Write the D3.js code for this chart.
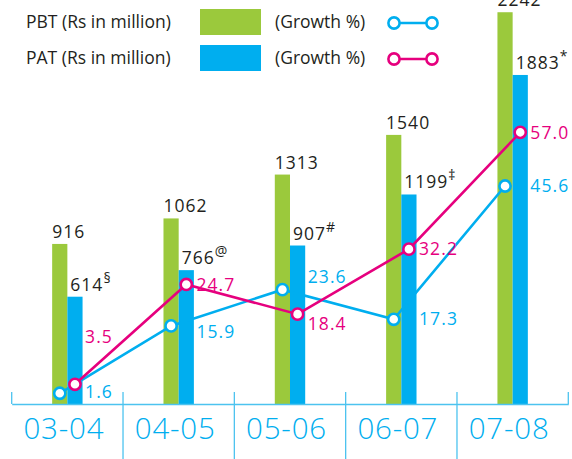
<!DOCTYPE html>
<html><head><meta charset="utf-8">
<script src="https://cdn.jsdelivr.net/npm/d3@7"></script>
<style>
html,body{margin:0;padding:0;background:#fff;}
svg{display:block;font-family:"Open Sans","DejaVu Sans",sans-serif;}
</style></head>
<body><svg id="c" width="572" height="459"></svg>
<script>
const categories = ["03-04","04-05","05-06","06-07","07-08"];
const pbt = [916,1062,1313,1540,2242];
const pat = [614,766,907,1199,1883];
const pbtMarks = ["","","","","†"];
const patMarks = ["§","@","#","‡","*"];
const pbtGrowth = [1.6,15.9,23.6,17.3,45.6];
const patGrowth = [3.5,24.7,18.4,32.2,57.0];

// label vertical nudges (layout only)
const pbtGrowthDy = [2,9,-10,3,3];
const patGrowthDy = [-44,4,13,3,4];

const GREEN="#9bc93c", BLUE="#00aeef", PINK="#e6007e", INK="#231f20", AXIS="#4cc3ef";
const svg = d3.select("#c");

const x = d3.scaleBand().domain(categories).range([11.7,568.3]).padding(0);
const yBar = d3.scaleLinear().domain([0,2312]).range([404,0]);
const yG = d3.scaleLinear().domain([0,85]).range([400.8,0.45]);
const bw = 15.2;
const cx = c => x(c)+x.bandwidth()/2;

// bars
svg.append("g").selectAll("rect").data(categories).join("rect")
  .attr("x",c=>cx(c)-bw).attr("width",bw)
  .attr("y",(c,i)=>yBar(pbt[i])).attr("height",(c,i)=>yBar(0)-yBar(pbt[i]))
  .attr("fill",GREEN);
svg.append("g").selectAll("rect").data(categories).join("rect")
  .attr("x",c=>cx(c)).attr("width",bw)
  .attr("y",(c,i)=>yBar(pat[i])).attr("height",(c,i)=>yBar(0)-yBar(pat[i]))
  .attr("fill",BLUE);

// value labels
function valLabels(vals, marks, dx){
  const t = svg.append("g").selectAll("text").data(categories).join("text")
    .attr("x",(c)=>cx(c)+dx).attr("y",(c,i)=>yBar(vals[i])-6)
    .attr("font-size",17.5).attr("fill",INK);
  t.append("tspan").attr("letter-spacing",1).text((c,i)=>vals[i]);
  t.append("tspan").attr("dy",-8).attr("dx",0).attr("font-size",14).text((c,i)=>marks[i]);
}
valLabels(pbt,pbtMarks,-bw);
valLabels(pat,patMarks,3);

// axis
const ax = svg.append("g").attr("transform","translate(0,404)");
ax.call(d3.axisBottom(x).tickSize(0).tickFormat(""));
ax.select(".domain").attr("stroke",AXIS).attr("stroke-width",1.3);
const edges = x.domain().map(c=>x(c)).concat([x.range()[1]]);
svg.append("g").selectAll("line").data(edges).join("line")
  .attr("x1",d=>d).attr("x2",d=>d).attr("y1",392).attr("y2",(d,i)=> (i===0||i===edges.length-1)?404:459)
  .attr("stroke",AXIS).attr("stroke-width",1.3);
svg.append("g").selectAll("text").data(categories).join("text")
  .attr("x",c=>cx(c)-3.5).attr("y",439.3).attr("text-anchor","middle")
  .attr("font-size",29.5).attr("font-weight",300).attr("letter-spacing",0.8)
  .attr("fill",BLUE).text(c=>c);

// growth lines
function growth(vals, color, off, dys){
  const pts = categories.map((c,i)=>[cx(c)+off, yG(vals[i])]);
  svg.append("path").attr("d",d3.line()(pts)).attr("fill","none")
    .attr("stroke",color).attr("stroke-width",2.6);
  svg.append("g").selectAll("circle").data(pts).join("circle")
    .attr("cx",d=>d[0]).attr("cy",d=>d[1]).attr("r",5.6)
    .attr("fill","#fff").attr("stroke",color).attr("stroke-width",2.6);
  svg.append("g").selectAll("text").data(categories).join("text")
    .attr("x",c=>cx(c)+bw+2.5).attr("y",(c,i)=>yG(vals[i])+dys[i]+3)
    .attr("font-size",17.5).attr("letter-spacing",1.1)
    .attr("fill",color).text((c,i)=>vals[i].toFixed(1));
}
growth(pbtGrowth, BLUE, -bw/2, pbtGrowthDy);
growth(patGrowth, PINK, bw/2, patGrowthDy);

// legend
const legend = [
  {label:"PBT (Rs in million)", fill:GREEN, line:BLUE, y:22},
  {label:"PAT (Rs in million)", fill:BLUE, line:PINK, y:58}
];
const lg = svg.append("g").selectAll("g").data(legend).join("g");
lg.append("text").attr("x",26).attr("y",d=>d.y+6).attr("font-size",17.5).attr("fill",INK).text(d=>d.label);
lg.append("rect").attr("x",200).attr("y",d=>d.y-13).attr("width",61).attr("height",26).attr("fill",d=>d.fill);
lg.append("text").attr("x",275).attr("y",d=>d.y+6).attr("font-size",17.5).attr("fill",INK).text("(Growth %)");
lg.append("line").attr("x1",394).attr("x2",432).attr("y1",d=>d.y+1).attr("y2",d=>d.y+1)
  .attr("stroke",d=>d.line).attr("stroke-width",2.6);
lg.each(function(d){
  d3.select(this).selectAll("circle").data([394,432]).join("circle")
    .attr("cx",v=>v).attr("cy",d.y+1).attr("r",5.6).attr("fill","#fff")
    .attr("stroke",d.line).attr("stroke-width",2.6);
});
</script></body></html>
